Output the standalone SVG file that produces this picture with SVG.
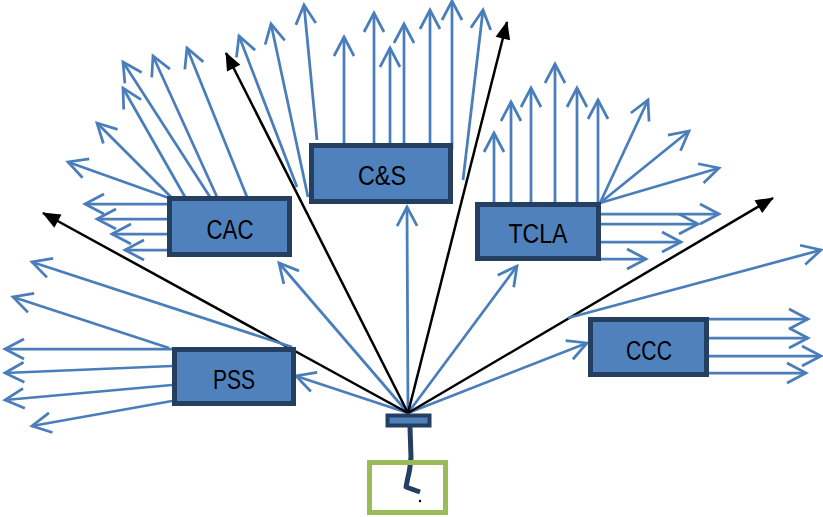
<svg xmlns="http://www.w3.org/2000/svg" width="823" height="517" viewBox="0 0 823 517">
<style>
.b{stroke:#4A7EBB;stroke-width:2.75;fill:none;marker-end:url(#oa)}
.k{stroke:#000;stroke-width:2.5;fill:none;marker-end:url(#fa)}
.box{fill:#4F81BD;stroke:#243F60;stroke-width:5}
.t{font-family:"Liberation Sans",Arial,sans-serif;font-size:27px;fill:#000;text-anchor:middle}
</style>
<defs>
<marker id="oa" markerUnits="userSpaceOnUse" viewBox="-24 -14 28 28" markerWidth="28" markerHeight="28" refX="0" refY="0" orient="auto" overflow="visible">
<path d="M-19,-10 L0,0 L-19,10" fill="none" stroke="#4A7EBB" stroke-width="2.75"/>
</marker>
<marker id="fa" markerUnits="userSpaceOnUse" viewBox="-20 -10 24 20" markerWidth="24" markerHeight="20" refX="0" refY="0" orient="auto" overflow="visible">
<path d="M-17,-7.5 L1,0 L-17,7.5 Z" fill="#000"/>
</marker>
</defs>
<rect width="823" height="517" fill="#fff"/>
<g id="connectors">
<line class="b" x1="408" y1="413" x2="296" y2="376"/>
<line class="b" x1="408" y1="413" x2="279" y2="263"/>
<line class="b" x1="408" y1="413" x2="407" y2="207"/>
<line class="b" x1="408" y1="413" x2="517" y2="266"/>
<line class="b" x1="408" y1="413" x2="587" y2="343"/>
<line class="k" x1="408" y1="413" x2="43" y2="213"/>
<line class="k" x1="408" y1="413" x2="226" y2="53"/>
<line class="k" x1="408" y1="413" x2="507" y2="22"/>
<line class="k" x1="408" y1="413" x2="773" y2="198"/>
<line class="b" x1="292" y1="347" x2="32" y2="262"/>
<line class="b" x1="169" y1="348" x2="13" y2="297"/>
<line class="b" x1="172" y1="349" x2="5" y2="349"/>
<line class="b" x1="172" y1="366" x2="5" y2="373"/>
<line class="b" x1="172" y1="385" x2="5" y2="400"/>
<line class="b" x1="172" y1="401" x2="32" y2="426"/>
<line class="b" x1="167" y1="204" x2="85" y2="204"/>
<line class="b" x1="167" y1="219" x2="97" y2="219"/>
<line class="b" x1="167" y1="234" x2="112" y2="234"/>
<line class="b" x1="167" y1="250" x2="125" y2="250"/>
<line class="b" x1="169" y1="198" x2="68" y2="162"/>
<line class="b" x1="171" y1="197" x2="97" y2="123"/>
<line class="b" x1="185" y1="197" x2="123" y2="88"/>
<line class="b" x1="210" y1="197" x2="123" y2="62"/>
<line class="b" x1="217" y1="197" x2="153" y2="56"/>
<line class="b" x1="247" y1="197" x2="187" y2="48"/>
<line class="b" x1="297" y1="187" x2="239" y2="36"/>
<line class="b" x1="308" y1="197" x2="271" y2="24"/>
<line class="b" x1="317" y1="140" x2="304" y2="5"/>
<line class="b" x1="344" y1="143" x2="344" y2="37"/>
<line class="b" x1="374" y1="143" x2="374" y2="13"/>
<line class="b" x1="390" y1="143" x2="390" y2="48"/>
<line class="b" x1="404" y1="143" x2="404" y2="24"/>
<line class="b" x1="430" y1="143" x2="430" y2="10"/>
<line class="b" x1="452" y1="150" x2="452" y2="1"/>
<line class="b" x1="463" y1="180" x2="483" y2="10"/>
<line class="b" x1="494" y1="202" x2="494" y2="133"/>
<line class="b" x1="511" y1="202" x2="511" y2="102"/>
<line class="b" x1="531" y1="202" x2="531" y2="88"/>
<line class="b" x1="555" y1="202" x2="555" y2="64"/>
<line class="b" x1="577" y1="202" x2="577" y2="88"/>
<line class="b" x1="598" y1="202" x2="598" y2="100"/>
<line class="b" x1="600" y1="203" x2="648" y2="100"/>
<line class="b" x1="600" y1="203" x2="689" y2="131"/>
<line class="b" x1="600" y1="203" x2="719" y2="168"/>
<line class="b" x1="601" y1="214" x2="719" y2="214"/>
<line class="b" x1="601" y1="224" x2="698" y2="224"/>
<line class="b" x1="601" y1="242" x2="681" y2="242"/>
<line class="b" x1="601" y1="259" x2="646" y2="259"/>
<line class="b" x1="568" y1="318" x2="821" y2="250"/>
<line class="b" x1="709" y1="319" x2="808" y2="319"/>
<line class="b" x1="709" y1="338" x2="808" y2="338"/>
<line class="b" x1="709" y1="356" x2="821" y2="356"/>
<line class="b" x1="709" y1="373" x2="806" y2="373"/>
<path d="M410,427 L411,457 Q410,470 408,477 L406,487 L420,492" fill="none" stroke="#243F60" stroke-width="5" stroke-linejoin="round"/>
</g>
<g id="CAC"><rect class="box" x="169.5" y="198.5" width="120" height="56"/><text class="t" x="230" y="239" textLength="47" lengthAdjust="spacingAndGlyphs">CAC</text></g>
<g id="CS"><rect class="box" x="311.5" y="145.5" width="139" height="56"/><text class="t" x="382" y="185" textLength="48" lengthAdjust="spacingAndGlyphs">C&amp;S</text></g>
<g id="TCLA"><rect class="box" x="477.5" y="204.5" width="121" height="54"/><text class="t" x="538" y="243" textLength="59" lengthAdjust="spacingAndGlyphs">TCLA</text></g>
<g id="CCC"><rect class="box" x="590.5" y="319.5" width="116" height="55"/><text class="t" x="649" y="360" textLength="46" lengthAdjust="spacingAndGlyphs">CCC</text></g>
<g id="PSS"><rect class="box" x="174.5" y="349.5" width="119" height="54"/><text class="t" x="234" y="389" textLength="42" lengthAdjust="spacingAndGlyphs">PSS</text></g>
<g id="source"><rect x="387.5" y="415.5" width="42" height="10" fill="#4F81BD" stroke="#243F60" stroke-width="4"/></g>
<g id="target"><rect x="369.5" y="462.5" width="76" height="50" fill="none" stroke="#9BBB59" stroke-width="5"/><circle cx="420" cy="501" r="1.2" fill="#000"/></g>
</svg>
